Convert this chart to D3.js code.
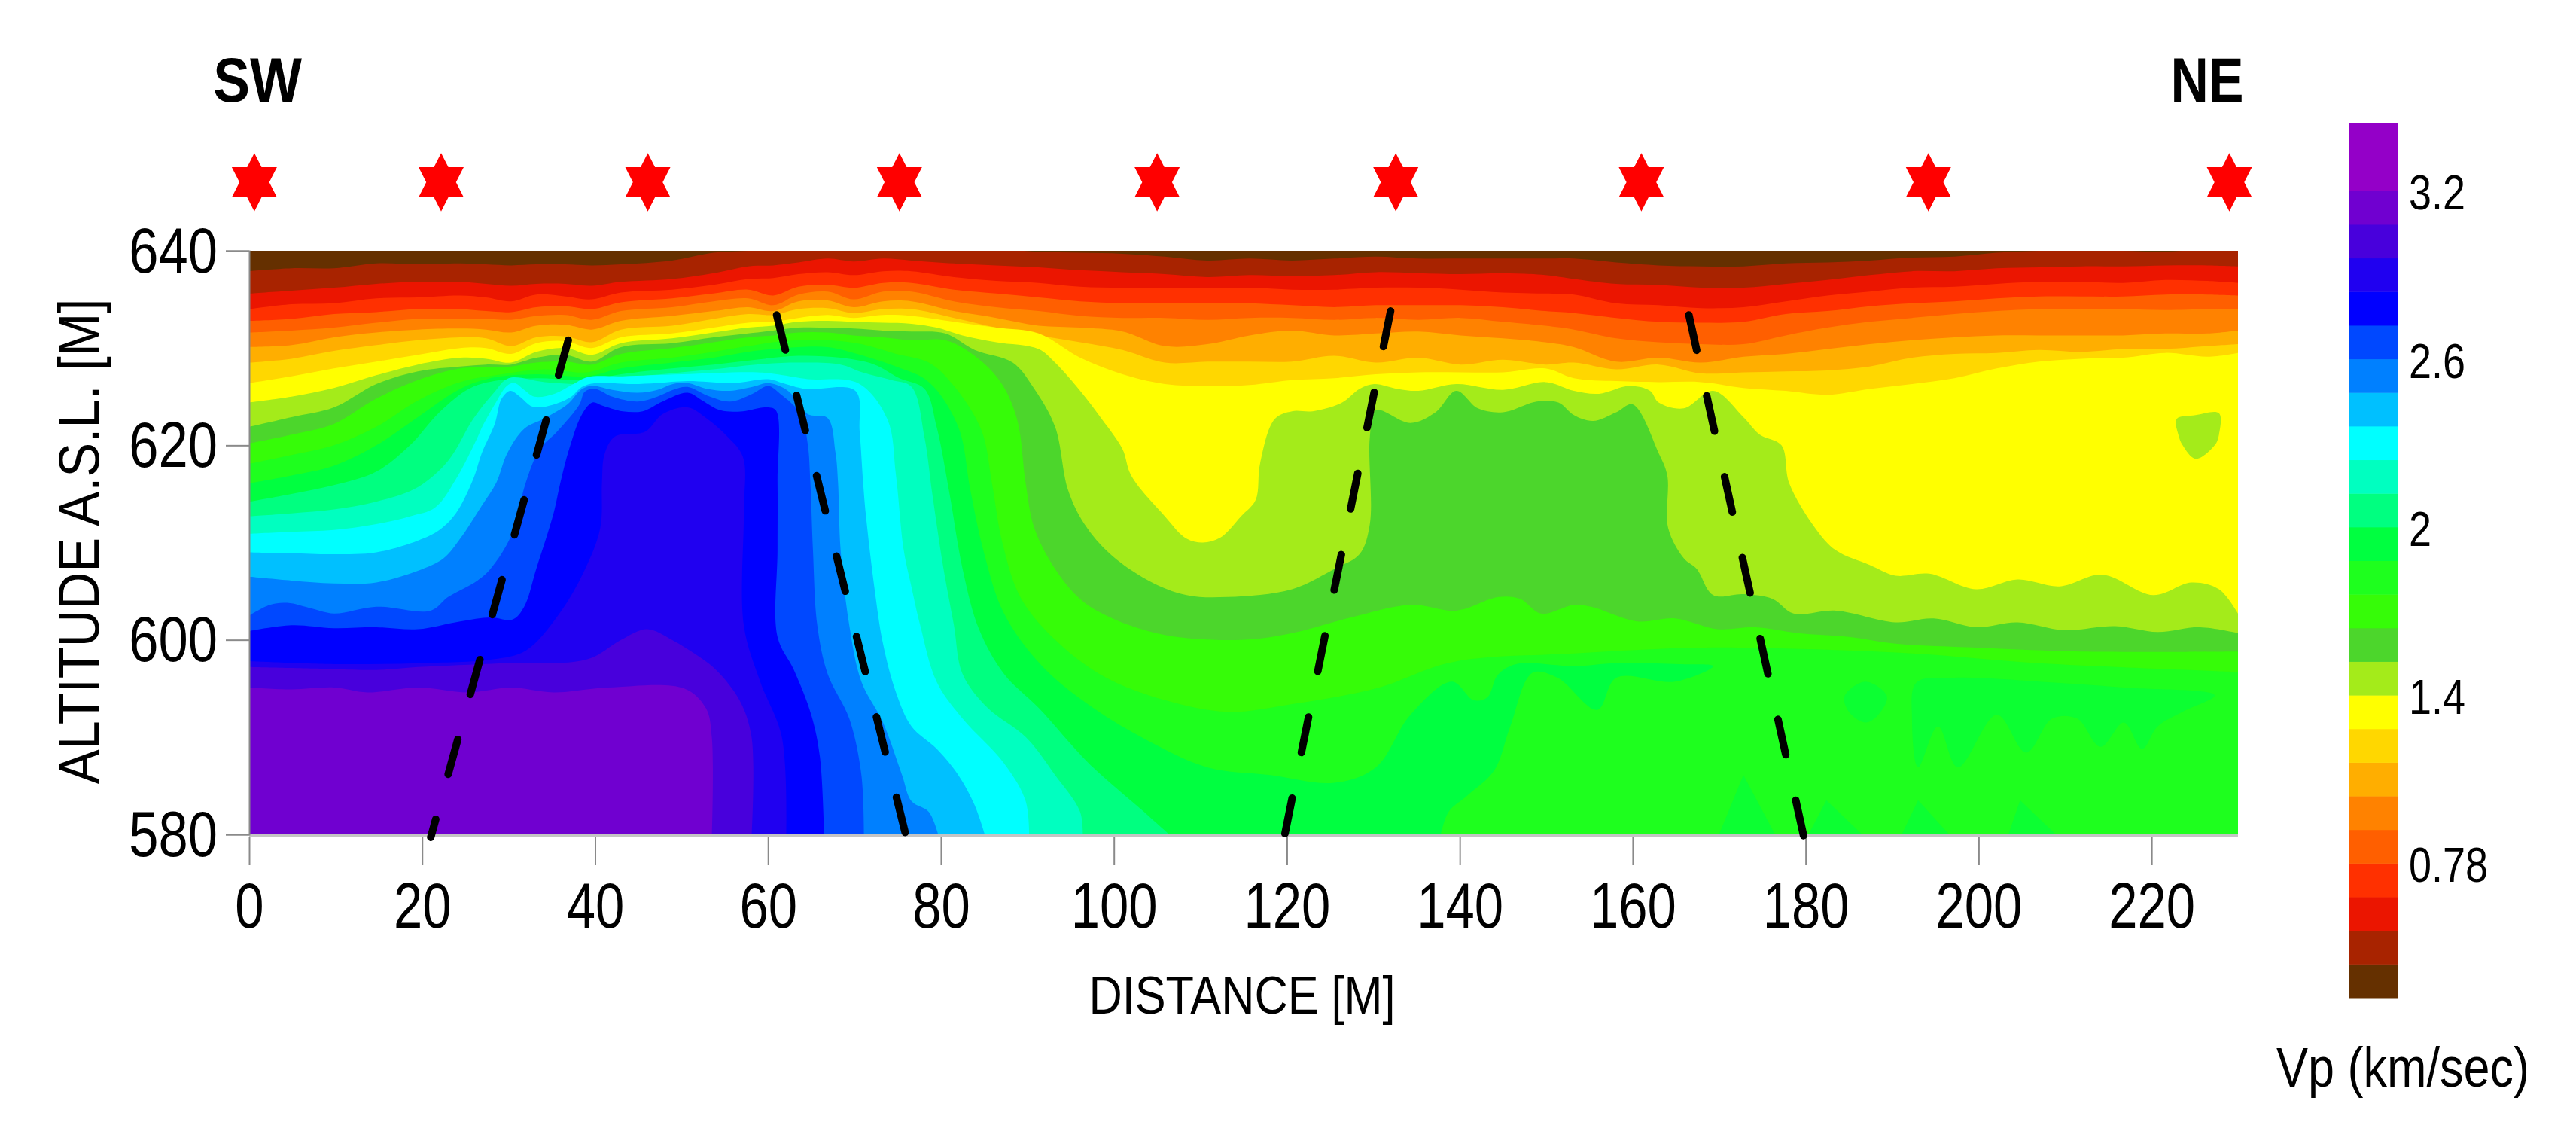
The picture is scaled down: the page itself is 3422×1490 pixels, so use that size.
<!DOCTYPE html>
<html><head><meta charset="utf-8">
<script src="https://cdn.jsdelivr.net/npm/d3@7/dist/d3.min.js"></script>
<style>html,body{margin:0;padding:0;background:#fff}svg{display:block}text{font-family:"Liberation Sans",Arial,sans-serif;fill:#000}</style>
</head><body><svg id="c" width="3422" height="1490"></svg>
<script>
// ---------- axes and labels ----------
const xTicks=[0,20,40,60,80,100,120,140,160,180,200,220];
const yTicks=[580,600,620,640];
const barTickLabels=["0.78","1.4","2","2.6","3.2"];
const barTickBands=[4,9,14,19,24];
const geophones=[0.6,22.2,46.1,75.2,105,132.6,161,194.2,229];
// ---------- colour bands, low to high velocity ----------
const bandColors=["#653000","#A82300","#EB1500","#FF3000","#FF5F00","#FF8200","#FFAE00","#FFD700","#FFFF00","#A4EB1A","#4CD62C","#36FC08","#1EFF1E","#00FF40","#00FF80","#00FFC0","#00FFFF","#00C0FF","#0080FF","#0048FF","#0000FF","#2000F0","#4800DC","#7000D0","#9400C8","#9400C8"];
const faintPatch="#0CFF32";
// ---------- shallow contour altitudes at shared stations (m) ----------
const stations=[0,4.9,9.8,14.7,19.5,24.4,27.4,30.3,33.2,36.6,39.6,43,48.9,53.7,57.7,60.6,63.5,66.9,69.9,73.3,
76.6,81.5,86.4,91.3,96.1,101,105.9,110.8,115.7,120.6,125.5,130.3,135.2,140.1,145,149.9,
153.2,158.1,163,167.9,172.8,177.7,182.5,187.4,192.3,197.2,202.1,207,211.9,216.7,221.6,226.5,230];
const iso1=[637.9,638.2,638.2,638.7,638.6,638.7,638.6,638.5,638.6,638.6,638.5,638.6,639,639.8,640,640.2,640.2,640.2,640.2,640.2,
640.2,640.2,640.2,639.9,639.8,639.7,639.4,639,639.2,639,639.2,639.4,639.2,639.2,639.2,639.2,
639.2,638.8,638.5,638.4,638.4,638.7,638.8,639,639.3,639.4,639.8,640,640.1,640,639.9,640.2,640.2];
const iso2=[635.6,635.9,636.2,636.6,636.8,636.8,636.6,636.4,636.6,636.6,636.4,636.8,637.1,637.7,638.4,638.5,638.8,639.2,638.9,639.2,
639,638.7,638.5,638.3,638,637.8,637.6,637.3,637.5,637.4,637.5,637.8,637.7,637.6,637.7,637.5,
637.1,636.6,636.5,636.2,636.2,636.6,637,637.5,637.9,637.9,638.2,638.3,638.4,638.4,638.5,638.5,638.4];
const iso3=[634,634.5,634.6,635.1,635.2,635.4,635.2,634.8,635.5,635.3,635,635.7,636,636.5,637.1,637.2,637.6,637.8,637.5,637.9,
637.9,637.3,636.9,636.7,636.3,636.2,636.2,636.2,636.2,636,636,636.2,636.2,636,635.7,635.6,
635.5,634.6,634.4,634.1,634.2,634.8,635.4,635.8,636.2,636.3,636.6,636.8,636.8,636.7,637,636.9,636.7];
const iso4=[632.8,633,633.5,633.7,634,634,633.8,633.7,634.2,634.3,634,634.7,635.1,635.6,636,635.4,636.3,636.5,636.2,636.7,
636.7,636,635.6,635.2,634.8,634.6,634.6,634.6,634.6,634.4,634.2,634.4,634.4,634.4,634.2,633.8,
633.6,633.1,632.7,632.6,632.7,633.5,633.8,634.3,634.6,634.8,635.1,635.3,635.3,635.3,635.5,635.5,635.4];
const iso5=[631.6,631.8,632.1,632.6,633,633,633,632.9,633.3,633.4,632.9,633.8,634.2,634.8,635.1,634.4,635.5,635.8,635,635.8,
635.8,634.8,634.2,633.8,633.3,633.1,633.1,632.9,633.1,633.1,632.9,633.1,632.9,633.1,632.7,632.3,
631.9,631,630.6,630.4,630.4,631.3,632.1,632.7,633.1,633.5,633.8,634,634,634,633.9,634,634];
const iso6=[630.1,630.3,631.1,631.6,631.9,632,631.9,631.6,632.3,632.4,631.9,632.8,633.3,633.8,634.2,633.8,634.8,634.9,634.2,634.8,
634.8,633.8,633.1,632.3,632.1,631.7,630.2,630.4,631.3,631.8,631.3,631.5,631.7,631.3,631,630.6,
630.1,628.6,629,628.5,629.1,629.4,629.9,630.4,630.8,631.1,631.3,631.3,631.3,631.3,631.5,631.5,631.8];
const iso7=[628.5,628.9,629.7,630.3,630.8,631.1,631,630.2,631.1,631.2,630.6,631.9,632.3,633,633.5,633.4,634,634.1,633.6,634,
634,633.1,632.1,631.3,630.6,629.8,628.5,628.6,628.6,628.6,629.2,628.5,629,628.3,628.8,628.3,
628.5,627.8,628.3,627.4,627.5,627.6,627.7,628.1,629,629.4,629.5,629.8,629.6,629.9,629.9,630.2,630.4];
const iso8=[626.4,627.1,627.9,628.6,629.3,630,630,629.4,630.5,630.7,630,631.1,631.5,632.1,632.6,632.7,633.1,633.4,633.1,633.4,
633.3,632.7,632.1,631.5,629,627.3,626.3,626.1,626.2,626.7,626.9,627.3,627.5,627.5,627.5,627.9,
626.9,626.6,626.5,626.5,625.9,625.6,625.2,625.8,626.3,626.9,627.9,628.6,628.9,629,629.5,629.1,629.5];
// ---------- deeper contours as [distance, altitude] ----------
const iso9=[[0,624.4],[4.9,625],[9.8,625.9],[14.7,627.2],[19.5,628.3],[24.4,629],[27.4,628.9],[30.3,628.5],[33.2,629.6],[36.6,630],[39.6,629.3],[43,630.5],[48.9,631],[53.7,631.6],[57.7,632.1],[60.6,632.3],[63.5,632.7],[66.9,632.8],[69.9,632.7],[73.3,632.6],[76.6,632.5],[79.5,632.1],[82.5,631.3],[86.4,630.6],[91.3,629.9],[93.2,628.5],[96.1,625.6],[98.6,622.7],[101,619.6],[102,616.9],[105.9,612.7],[108.4,610.4],[110.3,610],[112.3,610.5],[114.7,612.7],[116.4,614.4],[116.9,618.1],[118.6,622.7],[120.6,623.5],[123,623.5],[126.4,624.4],[128.4,625.8],[130.1,626.3],[132.8,625.8],[135.2,625.6],[139.6,626.3],[145,625.7],[149.9,626.5],[153.2,625.6],[156.1,625.3],[159.6,626.1],[162,625.6],[163,624.4],[165.9,623.8],[169.3,625.6],[172.8,622.9],[174.7,621.1],[177.2,620],[178.1,616.1],[181.1,611.5],[183.5,609.2],[187.4,607.7],[190.4,606.6],[194.3,606.8],[199.7,605.2],[204.5,606.2],[209.4,605.5],[214.3,606.7],[220.2,604.6],[224.6,605.9],[227.8,605.2],[230,602.7]];
const iso10=[[0,621.9],[4.9,622.9],[9.8,623.9],[14.7,626.3],[19.5,627.6],[24.4,628.1],[27.4,628.3],[30.3,628.3],[33.2,629],[36.6,629.3],[39.6,628.6],[43,630.1],[48.9,630.5],[53.7,631.1],[57.7,631.5],[60.6,631.8],[63.5,632.1],[66.9,632.1],[69.9,632],[73.3,631.8],[76.6,631.7],[80.5,631.5],[83.9,629.8],[88.3,628.5],[90.8,625.8],[93.2,621.9],[94.7,615.4],[96.6,611.9],[99.6,608.8],[104,606.1],[108.4,604.6],[113.2,604.4],[120.6,605.2],[125.5,607.3],[128.4,608.8],[129.6,611.9],[129.6,620.8],[130.3,623.6],[134.3,622.3],[137.2,623.4],[139.6,625.6],[142.1,623.8],[145,623.4],[148.9,624.5],[151.4,624.4],[153.2,623.1],[155.4,622.5],[158.1,623.4],[160,624.2],[163,619.2],[164,616.9],[164.1,611.5],[165.9,608.4],[167.4,607.3],[169.3,604.6],[172.8,604.7],[176.2,604.2],[178.6,602.7],[183.5,603],[190.4,601.8],[194.8,602.2],[199.7,601.3],[204.5,601.8],[209.9,601],[215.8,601.4],[220.7,600.8],[225.6,601.3],[230,600.7]];
const iso11=[[0,620.2],[4.9,621.1],[9.8,622.2],[14.7,624.8],[19.5,626.7],[24.4,627.9],[27.4,628],[30.3,628.1],[33.2,628.5],[36.6,628.6],[39.6,628.3],[43,629.4],[48.9,630],[53.7,630.6],[57.7,631.1],[60.6,631.3],[63.5,631.6],[66.9,631.6],[69.9,631.3],[73.3,631.1],[76.6,630.8],[80.5,630.8],[83.9,629.2],[86.9,626.5],[88.8,622.7],[89.8,616.1],[90.8,611.5],[93.2,607.3],[96.1,604.2],[99.6,602.3],[105.9,600.5],[114.7,600],[120.6,600.7],[127.4,602.3],[134.3,603.6],[139.6,603],[144.5,604.4],[147,604.2],[149.4,602.7],[153.2,603.6],[155.2,603.4],[160.5,601.9],[164.9,602.2],[169.8,601.1],[174.2,601.3],[179.1,600.7],[185,600.3],[190.4,599.6],[199.7,599.2],[211.9,598.8],[230,598.8]];
const iso12=[[0,618.1],[4.9,619],[9.8,620],[14.7,621.9],[19.5,624.6],[24.4,626.5],[29.3,627.3],[34.2,627.8],[39.1,627.5],[43,628.5],[48.9,629],[53.7,629.6],[57.7,630.2],[60.6,630.6],[63.5,630.8],[66.9,630.8],[70.8,630.4],[74.8,629.4],[78.6,628.5],[81.5,626.1],[84.7,621.5],[85.9,616.1],[87.1,610],[89.3,604.2],[93.7,599.6],[99.1,596.1],[105.9,593.8],[113.2,592.6],[120.6,593.4],[130.3,595],[139.1,597.7],[153.2,598.6],[167.9,599.2],[177.7,599.1],[192.3,598.6],[207,597.6],[230,596.7]];
const iso13=[[0,616.1],[4.9,616.9],[9.8,617.9],[14.7,620],[19.5,622.9],[24.4,625.8],[27.9,626.9],[33.2,627.3],[39.1,627.1],[43,627.9],[48.9,628.5],[53.7,629],[57.7,629.6],[60.6,629.9],[63.5,630.1],[66.9,630.1],[69.9,629.5],[74.8,628.1],[78.6,626.5],[82,621.9],[83.4,615.4],[84.9,609.2],[87.3,602.7],[91.7,597.3],[97.6,593],[104,589.6],[110.8,586.9],[118.1,586.1],[125.5,585.3],[130.3,586.9],[134.3,592.3],[139.1,595.7],[141.6,593.8],[143.2,594.1],[144.4,596.4],[146.5,597.5],[153.2,597.3],[158.1,597.6],[165.4,597.5],[169.3,597.3],[164.9,595.7],[158.1,596.1],[155.9,592.8],[151.3,596.1],[148.4,596.6],[145.8,591],[144,586.6],[140.9,584],[138.7,582.3],[137.7,579.6]];
const iso14=[[0,614.2],[4.9,615],[9.8,615.9],[14.7,617.3],[18.6,620],[22,623.4],[25.4,625.8],[28.3,626.6],[33.2,626.9],[39.1,626.7],[43,627.3],[48.9,627.9],[53.7,628.3],[58.6,628.8],[63.5,629.2],[68.4,629],[72.3,628.3],[75.2,626.9],[78.1,625.8],[79.5,621.9],[81,615],[82.5,607.3],[84.4,601.1],[87.3,596.5],[91.3,593],[97.1,587.3],[103.5,582.3],[106.9,579.6]];
const iso15=[[0,612.7],[4.9,613],[9.8,613.4],[14.7,614.2],[19.5,615.7],[23,618.4],[25.9,622.7],[28.3,625.4],[30,626.9],[34.2,626.5],[39.1,626.3],[43,626.9],[48.9,627.4],[53.7,627.8],[58.6,628.3],[63.5,628.5],[68.4,628.3],[70.9,627.5],[74.3,626.7],[76.6,626],[78.1,620.8],[79,615],[80.3,607.3],[81.5,601.5],[82.5,596.5],[85.4,593],[89.8,590],[93.2,586.1],[96.1,582.3],[96.4,579.6]];
const iso16=[[0,610.9],[4.9,611.1],[9.8,611.3],[14.7,611.9],[18.6,612.7],[21.5,613.6],[23.9,616.5],[26.4,620.8],[26.9,621.8],[28.4,624.2],[29.8,626.1],[30.7,626.4],[31.8,625.7],[33,625],[35.3,625.3],[37.3,626.2],[39.1,627],[43.2,627.1],[50.1,627.3],[58.8,627.5],[61.7,627.2],[64.6,626.8],[70.4,626.4],[73.8,622.7],[74.8,616.9],[75.7,609.2],[76.6,605.4],[77.6,601.5],[79.5,595.7],[82.5,591.9],[87.3,587.3],[89.8,583.4],[90.2,579.6]];
const iso17=[[0,609],[4.9,608.9],[9.8,608.8],[14.7,609],[19.5,610.2],[22,611.3],[23.9,613],[25.9,616.5],[26.9,619.2],[28.4,622.2],[29.2,624.8],[30.2,625.6],[31.3,625],[32.7,624],[34.4,624],[37.1,624.9],[38.5,626],[40,626.4],[44.3,626.3],[47.2,626.4],[50.7,626.6],[55.9,626.4],[60,626.8],[61.7,626.4],[64.3,625.8],[70.1,625.6],[70.6,621.4],[71,616.2],[71.3,613],[72.3,605.4],[73.3,599.6],[74.8,594.6],[76.6,591.1],[79.5,588.8],[82,586.1],[83.9,583],[85.2,579.6]];
const iso18=[[0,606.5],[4.9,606.1],[9.8,605.8],[14.7,605.9],[19.5,607.1],[22.5,608.4],[24.4,610.4],[26.9,613.8],[28.6,616.2],[29.8,619.1],[31.8,621.7],[34.2,622.8],[36.8,624.2],[38.5,625.8],[39.7,626.1],[42,625.7],[44.9,625.4],[47.2,625.7],[49,626.3],[50.7,626.4],[53,625.8],[55.6,625.6],[58.2,626],[60,626.4],[62,625.8],[63.2,624.8],[64.6,623.2],[66.9,622.8],[67.8,619.3],[68.1,616.2],[68.4,609.2],[69.4,601.5],[70.8,595.7],[73.3,591.5],[75.5,586.1],[76.6,583.4],[78.6,582.3],[79.8,579.6]];
const iso19=[[0,602.5],[2.4,603.6],[4.4,603.8],[7.3,603.2],[9.8,602.7],[14.7,603.4],[21,603],[23,604.4],[26.4,606.1],[27.9,607.3],[30.3,610.7],[32,616.2],[33.6,619.6],[35.6,621.4],[38.2,624.2],[38.8,625.5],[40,625.8],[42,625],[44.9,624.5],[47.2,625],[49,625.7],[50.7,626],[53,625.1],[55.6,624.5],[58.2,625.3],[60,626.1],[61.4,625.3],[63.8,623.2],[64.6,620.1],[64.9,616.2],[65.2,609.2],[65.7,601.5],[66.9,596.5],[69.4,591.9],[70.8,586.1],[71.1,579.6]];
const iso20=[[0,600.9],[4.9,601.5],[9.8,601.2],[14.7,601.3],[19.5,601.1],[24.4,601.9],[27.9,602.3],[30.5,602.1],[31.8,603.4],[33.2,607.3],[35.2,613],[36,616.2],[37,619.6],[38.5,623.2],[39.7,624.4],[40.8,624.1],[43.2,623.5],[45.5,623.5],[47.8,624.5],[50.7,625.4],[52.4,624.6],[54.5,623.6],[57.1,623.5],[59.7,623.9],[60.9,623.6],[61.1,616.2],[61.1,609.2],[61.1,600.3],[63,596.9],[65,592.3],[66,588],[66.5,579.6]];
const iso21=[[0,597.8],[9.8,597.5],[19.5,597.6],[28.2,598],[32,598.9],[35.8,602.6],[38.7,607],[40.6,611.5],[40.8,616.2],[41.1,619.1],[42.3,620.9],[45.8,621.4],[47.8,623.2],[50.7,623.9],[53,622.7],[55.3,620.9],[57.1,618.8],[57.2,613],[57.2,601.5],[59.1,595.7],[61.6,590],[62.1,579.6]];
const iso22=[[0,597.2],[9.8,597],[14.7,596.9],[19.5,597.2],[29.3,597.6],[39.1,598],[43,600],[46,601.1],[48.9,600],[51.8,598.4],[54,596.9],[56.7,593.8],[58.1,590],[58.1,579.6]];
const iso23=[[0,595.1],[4.9,594.9],[9.8,595.1],[13.7,594.6],[19.5,595.1],[25.4,594.6],[30.3,595.1],[35.2,594.6],[41.5,595.1],[50.3,595],[52.8,593],[53.5,590],[53.5,579.6]];
// ---------- closed islands ----------
const islandKnoll=[[222.9,622.7],[225.1,623.1],[227.8,623.3],[227.8,621.1],[227.3,620],[225.1,618.6],[223.6,620],[223.1,621.1]];
const islandOval=[[184.5,594.2],[186.9,595.7],[189.4,594.2],[188.4,592.3],[186.9,591.5],[185,592.6]];
const islandBand=[[192.8,595.6],[197.2,596.1],[207,595.7],[216.8,595.1],[227.3,594.3],[223.6,592.6],[220.7,591.1],[218.9,588.8],[216.8,591.5],[214.1,589],[211.4,591.9],[208.5,591.9],[205.5,588.4],[202.1,592.3],[197.6,586.9],[195.3,591.1],[193,586.9],[192.3,591.9]];
const wedgeA=[[172.8,586.1],[169.8,579.6],[176.7,579.6]];
const wedgeB=[[182.4,583.5],[180.1,579.6],[187,579.6]];
const wedgeC=[[193,583.5],[190.9,579.6],[197,579.6]];
const wedgeD=[[204.8,583.5],[203.3,579.6],[209.4,579.6]];
// ---------- interpreted faults: [top, bottom] ----------
const fault1=[[36.9,630.8],[21,579.7]];
const fault2=[[61,633.4],[76,579.7]];
const fault3=[[132,633.8],[119.7,579.7]];
const fault4=[[166.5,633.4],[179.8,579.7]];

const svg=d3.select("#c");
const x=d3.scaleLinear().domain([0,230]).range([331,2973]);
const y=d3.scaleLinear().domain([580,640]).range([1108,333]);
const bar=d3.scaleLinear().domain([0,26]).range([1325,164]);

function label(sel,px,py,str,o){
  const t=`translate(${px},${py})`+(o.rot?` rotate(${o.rot})`:"")+` scale(${o.sx||1},1)`;
  return sel.append("text").attr("transform",t).attr("font-size",o.size)
    .attr("font-weight",o.weight||"normal").attr("text-anchor",o.anchor||"start").text(str);
}

const defs=svg.append("defs");
defs.append("clipPath").attr("id","plot").append("rect")
  .attr("x",x(0)).attr("y",y(640)).attr("width",x(230)-x(0)).attr("height",y(580)-y(640));

const plot=svg.append("g").attr("clip-path","url(#plot)");
plot.append("rect").attr("x",x(0)).attr("y",y(640)).attr("width",x(230)-x(0)).attr("height",y(580)-y(640)).attr("fill",bandColors[0]);

const smooth=d3.line().x(d=>x(d[0])).y(d=>y(d[1])).curve(d3.curveCatmullRom.alpha(0.5));
const shallow=[iso1,iso2,iso3,iso4,iso5,iso6,iso7,iso8].map(a=>d3.zip(stations,a));
const contours=shallow.concat([iso9,iso10,iso11,iso12,iso13,iso14,iso15,iso16,iso17,iso18,iso19,iso20,iso21,iso22,iso23]);
plot.selectAll("path.level").data(contours).join("path").attr("class","level")
  .attr("fill",(d,i)=>bandColors[i+1])
  .attr("d",d=>{const l=d[d.length-1];return smooth(d)+`L${x(l[0])},${y(579)}L${x(0)},${y(579)}Z`;});

const closed=d3.line().x(d=>x(d[0])).y(d=>y(d[1])).curve(d3.curveCatmullRomClosed.alpha(0.5));
const straight=d3.line().x(d=>x(d[0])).y(d=>y(d[1]));
plot.append("path").attr("d",closed(islandKnoll)).attr("fill",bandColors[9]);
[islandOval,islandBand].forEach(a=>plot.append("path").attr("d",closed(a)).attr("fill",faintPatch));
[wedgeA,wedgeB,wedgeC,wedgeD].forEach(a=>plot.append("path").attr("d",straight(a)+"Z").attr("fill",faintPatch));

// bottom rim of the section
svg.append("line").attr("x1",x(0)).attr("x2",x(230)).attr("y1",y(580)+1.5).attr("y2",y(580)+1.5)
  .attr("stroke","#c4c4c4").attr("stroke-width",5);

// axes
const ax=svg.append("g").attr("transform",`translate(0,${y(580)+3})`).call(d3.axisBottom(x).tickValues(xTicks).tickSize(38));
ax.select(".domain").remove();
ax.selectAll("line").attr("stroke","#8a8a8a").attr("stroke-width",2);
ax.selectAll("text").attr("x",null).attr("y",null).attr("dy",null).attr("text-anchor","middle")
  .attr("font-size",85).attr("font-family",null)
  .attr("transform","translate(0,121) scale(.81,1)");
const ay=svg.append("g").attr("transform",`translate(${x(0)},0)`).call(d3.axisLeft(y).tickValues(yTicks).tickSize(31));
ay.select(".domain").attr("stroke","#8a8a8a").attr("stroke-width",2);
ay.selectAll("line").attr("stroke","#8a8a8a").attr("stroke-width",2);
ay.selectAll("text").attr("x",null).attr("y",null).attr("dy",null).attr("text-anchor","end")
  .attr("font-size",85).attr("font-family",null)
  .attr("transform","translate(-42,28) scale(.83,1)");
ax.attr("font-family",null).attr("font-size",null);ay.attr("font-family",null).attr("font-size",null);

// titles
label(svg,1650,1346,"DISTANCE [M]",{size:70,sx:.875,anchor:"middle"});
label(svg,131,719,"ALTITUDE A.S.L. [M]",{size:76,sx:.905,anchor:"middle",rot:-90});
label(svg,342,135,"SW",{size:84,sx:.87,anchor:"middle",weight:"bold"});
label(svg,2932,135,"NE",{size:84,sx:.83,anchor:"middle",weight:"bold"});
label(svg,3024,1443,"Vp (km/sec)",{size:75,sx:.84});

// geophone stars: both triangles wound the same way so the hexagram fills solid
const hexagram={draw(ctx,s){const h=38.7*s,w=30*s,e=20*s;
  ctx.moveTo(0,-h);ctx.lineTo(w,e);ctx.lineTo(-w,e);ctx.closePath();
  ctx.moveTo(0,h);ctx.lineTo(-w,-e);ctx.lineTo(w,-e);ctx.closePath();}};
svg.selectAll("path.star").data(geophones).join("path").attr("class","star")
  .attr("transform",d=>`translate(${x(d)},242)`).attr("fill","#ff0000")
  .attr("d",d3.symbol().type(hexagram).size(1));

// faults
svg.selectAll("path.fault").data([fault1,fault2,fault3,fault4]).join("path").attr("class","fault")
  .attr("d",straight).attr("fill","none").attr("stroke","#000").attr("stroke-width",10)
  .attr("stroke-linecap","round").attr("stroke-dasharray","48 62");

// colour bar
svg.selectAll("rect.band").data(bandColors).join("rect").attr("class","band")
  .attr("x",3120).attr("width",65).attr("y",(d,i)=>bar(i+1)).attr("height",(d,i)=>bar(i)-bar(i+1)+.5).attr("fill",d=>d);
barTickLabels.forEach((t,i)=>label(svg,3200,bar(barTickBands[i])+25,t,{size:65,sx:.83}));
</script></body></html>
